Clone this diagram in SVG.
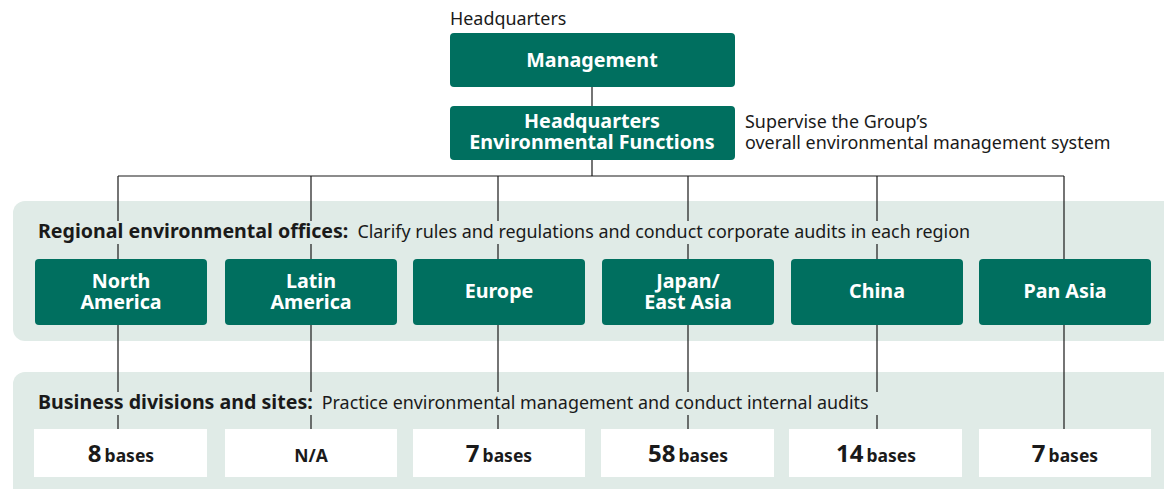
<svg xmlns="http://www.w3.org/2000/svg" width="1164" height="489" viewBox="0 0 1164 489">
<style>
.panel{fill:#e0ebe7}
.gbox{fill:#006f5f}
.wbox{fill:#ffffff}
.wt{fill:#ffffff;font-family:"Noto Sans",sans-serif;font-weight:bold;font-size:19.7px;text-anchor:middle}
.dt{fill:#1a1a1a;font-family:"Noto Sans",sans-serif;font-size:17.9px}
.hb{fill:#1a1a1a;font-family:"Noto Sans",sans-serif;font-weight:bold;font-size:19.6px}
.num{fill:#1a1a1a;font-family:"Noto Sans",sans-serif;font-weight:bold;text-anchor:middle}
.ln{stroke:#1a1a1a;stroke-width:1.2;fill:none}
</style>
<rect class="panel" x="13" y="201" width="1163" height="140" rx="12"/>
<rect class="panel" x="13" y="372" width="1163" height="128" rx="12"/>
<g id="connectors">
<path class="ln" d="M592 87V106M592 160V176M118 176H1064M118 176V259M311 176V259M498 176V259M688 176V259M877 176V259M1064 176V259M118 325V429M311 325V429M498 325V429M688 325V429M877 325V429M1064 325V429"/>
</g>
<rect class="panel" x="34" y="221" width="944" height="23"/>
<rect class="panel" x="34" y="392" width="847" height="23"/>
<text class="dt" x="450" y="25">Headquarters</text>
<g id="management">
<rect class="gbox" x="450" y="33" width="285" height="54" rx="4"/>
<text class="wt" x="592" y="67">Management</text>
</g>
<g id="hq-env">
<rect class="gbox" x="450" y="106" width="285" height="54" rx="4"/>
<text class="wt" x="592" y="128">Headquarters</text>
<text class="wt" x="592" y="149">Environmental Functions</text>
</g>
<g id="hq-note">
<text class="dt" x="745" y="128">Supervise the Group’s</text>
<text class="dt" x="745" y="149">overall environmental management system</text>
</g>
<g id="regional-heading">
<text x="38" y="238"><tspan class="hb">Regional environmental offices:</tspan><tspan class="dt" dx="9">Clarify rules and regulations and conduct corporate audits in each region</tspan></text>
</g>
<g id="north-america">
<rect class="gbox" x="35" y="259" width="172" height="66" rx="4"/>
<text class="wt" x="121" y="288">North</text>
<text class="wt" x="121" y="309">America</text>
</g>
<g id="latin-america">
<rect class="gbox" x="225" y="259" width="172" height="66" rx="4"/>
<text class="wt" x="311" y="288">Latin</text>
<text class="wt" x="311" y="309">America</text>
</g>
<g id="europe">
<rect class="gbox" x="413" y="259" width="172" height="66" rx="4"/>
<text class="wt" x="499" y="298">Europe</text>
</g>
<g id="japan">
<rect class="gbox" x="602" y="259" width="172" height="66" rx="4"/>
<text class="wt" x="688" y="288">Japan/</text>
<text class="wt" x="688" y="309">East Asia</text>
</g>
<g id="china">
<rect class="gbox" x="791" y="259" width="172" height="66" rx="4"/>
<text class="wt" x="877" y="298">China</text>
</g>
<g id="pan-asia">
<rect class="gbox" x="979" y="259" width="172" height="66" rx="4"/>
<text class="wt" x="1065" y="298">Pan Asia</text>
</g>
<g id="business-heading">
<text x="38" y="409"><tspan class="hb">Business divisions and sites:</tspan><tspan class="dt" dx="9">Practice environmental management and conduct internal audits</tspan></text>
</g>
<g id="na-bases">
<rect class="wbox" x="34" y="429" width="173" height="48"/>
<text class="num" x="121" y="462"><tspan font-size="24">8</tspan><tspan font-size="17.5" dx="3">bases</tspan></text>
</g>
<g id="la-bases">
<rect class="wbox" x="225" y="429" width="172" height="48"/>
<text class="num" x="311" y="462" font-size="17.5">N/A</text>
</g>
<g id="eu-bases">
<rect class="wbox" x="413" y="429" width="172" height="48"/>
<text class="num" x="499" y="462"><tspan font-size="24">7</tspan><tspan font-size="17.5" dx="3">bases</tspan></text>
</g>
<g id="jp-bases">
<rect class="wbox" x="601" y="429" width="173" height="48"/>
<text class="num" x="688" y="462"><tspan font-size="24">58</tspan><tspan font-size="17.5" dx="3">bases</tspan></text>
</g>
<g id="cn-bases">
<rect class="wbox" x="789" y="429" width="173" height="48"/>
<text class="num" x="876" y="462"><tspan font-size="24">14</tspan><tspan font-size="17.5" dx="3">bases</tspan></text>
</g>
<g id="pa-bases">
<rect class="wbox" x="979" y="429" width="172" height="48"/>
<text class="num" x="1065" y="462"><tspan font-size="24">7</tspan><tspan font-size="17.5" dx="3">bases</tspan></text>
</g>
</svg>
